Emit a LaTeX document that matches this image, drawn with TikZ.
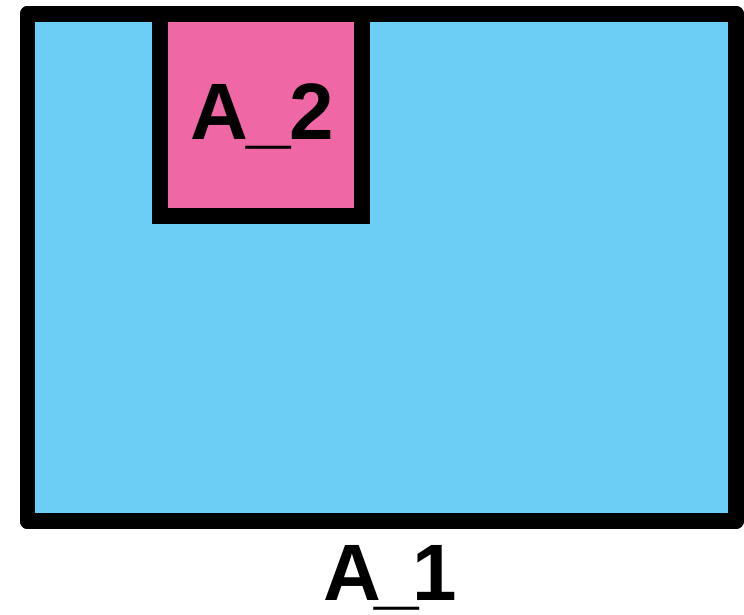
\documentclass[tikz,border=0pt]{standalone}
\usepackage{fontspec}
\setmainfont{Liberation Sans}
\definecolor{bluefill}{HTML}{6CCEF5}
\definecolor{pinkfill}{HTML}{F067A6}
\begin{document}
\begin{tikzpicture}[x=1pt,y=1pt,
  outerbox/.style={draw=black,line width=15.5pt,line join=round,fill=bluefill},
  innerbox/.style={draw=black,line width=15.5pt,line join=miter,fill=pinkfill},
  lbl/.style={font=\fontsize{80}{80}\selectfont\bfseries,inner sep=0pt,anchor=base}]
\useasboundingbox (0,0) rectangle (744,614);
\draw[outerbox] (27.5,93) rectangle (736,600);
\draw[innerbox] (160,398) rectangle (362,600);
\draw[line width=15.5pt,line join=round] (27.5,93) rectangle (736,600);
\node[lbl] (a2) at (262,474) {\addfontfeature{LetterSpace=-2}A\_2};
\node[lbl] (a1) at (390,14) {\addfontfeature{LetterSpace=-8}A\_1};
\end{tikzpicture}
\end{document}
